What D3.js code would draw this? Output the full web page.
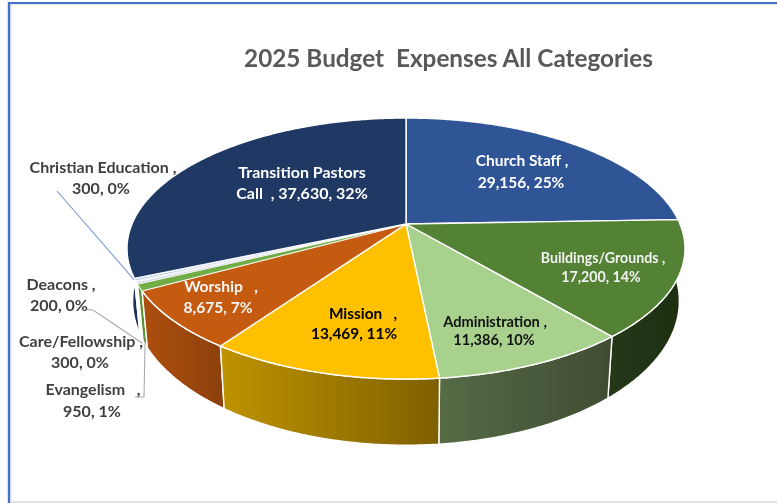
<!DOCTYPE html>
<html>
<head>
<meta charset="utf-8">
<script src="https://cdn.jsdelivr.net/npm/d3@7/dist/d3.min.js"></script>
<style>
html,body{margin:0;padding:0;background:#fff;overflow:hidden}
svg{display:block;filter:blur(0.35px)}
text{font-family:Lato,"Open Sans",sans-serif;font-weight:700;text-anchor:middle}
</style>
</head>
<body>
<svg id="c" width="777" height="503"></svg>
<script>
const categories = ["Church Staff","Buildings/Grounds","Administration","Mission","Worship","Evangelism","Care/Fellowship","Deacons","Christian Education","Transition Pastors Call"];
const values = [29156,17200,11386,13469,8675,950,300,200,300,37630];
const percents = [25,14,10,11,7,1,0,0,0,32];
const nameLines = ["Church Staff ,","Buildings/Grounds ,","Administration ,","Mission   ,","Worship   ,","Evangelism   ,","Care/Fellowship ,","Deacons ,","Christian Education ,","Transition Pastors"];
const topColors = ["#2f5597","#548235","#a9d18e","#ffc000","#c55a11","#70ad47","#d5d9e0","#e3e7ef","#b4c7e7","#1f3864"];
const sideStart = ["#24437a","#25391a","#566b46","#bd9200","#ab4e0f","#5d9239","#b0b0b0","#c8c8c8","#8fa6cc","#1a3058"];
const sideEnd   = ["#24437a","#1e3010","#404d33","#7f6000","#8c400c","#5d9239","#b0b0b0","#c8c8c8","#8fa6cc","#1a3058"];
const labelColors = ["#fff","#f2f2f2","#111","#000","#f7f7f7","#404040","#404040","#404040","#404040","#fff"];
const labelSizes = [15.5,14.2,14.6,15.4,15.6,16,16,16,16,16];
const labelCenters = [[522,161,521,183],[603,258,601,277],[495,322,494,340],[363,314,354,334],[221,287,218,308],[93,389,92,411],[81,341,80,362],[61,284,59,305],[103,167,101,188],[302,172,302,193]];
const titleText = "2025 Budget\u00a0\u00a0Expenses All Categories";

const svg = d3.select("#c");
const defs = svg.append("defs");

// Frame
svg.append("rect").attr("x",0).attr("y",0).attr("width",777).attr("height",503).attr("fill","#fff");
svg.append("line").attr("x1",11).attr("x2",11).attr("y1",4).attr("y2",503).attr("stroke","#dfe4ee").attr("stroke-width",1);
svg.append("line").attr("x1",9).attr("x2",777).attr("y1",4.5).attr("y2",4.5).attr("stroke","#e6e6e6").attr("stroke-width",1);
svg.append("line").attr("x1",11).attr("x2",777).attr("y1",502).attr("y2",502).attr("stroke","#e2e2e2").attr("stroke-width",2);
svg.append("line").attr("x1",9).attr("x2",9).attr("y1",2).attr("y2",503).attr("stroke","#4472c4").attr("stroke-width",2.4);
svg.append("line").attr("x1",8).attr("x2",777).attr("y1",3).attr("y2",3).attr("stroke","#4472c4").attr("stroke-width",2);

// Title
svg.append("text").attr("x",448.5).attr("y",67).attr("fill","#595959")
  .style("font-size","24.3px").text(titleText);

// Perspective pie: a tilted disc projected through a vanishing factor
const k = 0.188;
const xTop = d3.scaleLinear().domain([-1,1]).range([406-274,406+274]);
const yTop = d3.scaleLinear().domain([-1,1]).range([224-125.9,224+125.9]);
const xBot = d3.scaleLinear().domain([-1,1]).range([406-268.5,406+268.5]);
const yBot = d3.scaleLinear().domain([-1,1]).range([274-139,274+139]);
function proj(a, xs, ys){
  const u = Math.sin(a), v = -Math.cos(a), f = 1/(1-k*v);
  return [xs(u*f), ys(v*f)];
}
const pie = d3.pie().sort(null).value(d=>d)(values);
const line = d3.line();
function arcPts(d, xs, ys){
  const n = Math.max(2, Math.ceil((d.endAngle-d.startAngle)/0.01));
  return d3.range(n+1).map(i=>proj(d.startAngle+(d.endAngle-d.startAngle)*i/n, xs, ys));
}
const mid = d => (d.startAngle+d.endAngle)/2;

// Side walls, far to near
pie.forEach((d,i)=>{
  const g = defs.append("linearGradient").attr("id","side"+i)
    .attr("gradientUnits","userSpaceOnUse");
  const a = proj(d.endAngle,xBot,yBot), b = proj(d.startAngle,xBot,yBot);
  g.attr("x1",a[0]).attr("x2",b[0]).attr("y1",0).attr("y2",0);
  g.append("stop").attr("offset",0).attr("stop-color",sideStart[i]);
  g.append("stop").attr("offset",1).attr("stop-color",sideEnd[i]);
});
const order = d3.range(pie.length).sort((a,b)=>(-Math.cos(mid(pie[a])))-(-Math.cos(mid(pie[b]))));
order.forEach(i=>{
  const d = pie[i];
  const pts = arcPts(d,xTop,yTop).concat(arcPts(d,xBot,yBot).reverse());
  svg.append("path").attr("d",line(pts)+"Z").attr("fill","url(#side"+i+")")
    .attr("stroke","#fff").attr("stroke-width",1.4).attr("stroke-linejoin","round");
});

// Top face
pie.forEach((d,i)=>{
  const c = [xTop(0),yTop(0)];
  const pts = [c].concat(arcPts(d,xTop,yTop));
  svg.append("path").attr("d",line(pts)+"Z").attr("fill",topColors[i])
    .attr("stroke","#fff").attr("stroke-width",i>=5&&i<=8?0.6:1.4).attr("stroke-linejoin","round");
});

// Leader lines, anchored on the rim of their slices
const fmt = d3.format(",");
const leaderLine = d3.line();
const eduRim = proj(mid(pie[8]),xTop,yTop);
const deaBot = proj(mid(pie[7]),xBot,yBot);
const evaBot = proj(mid(pie[5]),xBot,yBot);
svg.append("path").attr("d",leaderLine([[labelCenters[8][2]-44,191],[eduRim[0]-1,eduRim[1]]]))
  .attr("fill","none").attr("stroke","#7c9bd6").attr("stroke-width",1.1);
svg.append("path").attr("d",leaderLine([[labelCenters[7][2]+28,309.5],[labelCenters[7][2]+34,310],[deaBot[0]+1,deaBot[1]+6]]))
  .attr("fill","none").attr("stroke","#a9a9a9").attr("stroke-width",1.1);
svg.append("path").attr("d",leaderLine([[labelCenters[5][2]+43,397],[labelCenters[5][2]+52,397],[evaBot[0],evaBot[1]-2]]))
  .attr("fill","none").attr("stroke","#a9a9a9").attr("stroke-width",1.1);

// Labels
pie.forEach((d,i)=>{
  const p = labelCenters[i];
  const second = (i===9 ? "Call  , " : "") + fmt(values[i]) + ", " + percents[i] + "%";
  [[nameLines[i],p[0],p[1]],[second,p[2],p[3]]].forEach(t=>{
    svg.append("text").attr("x",t[1]).attr("y",t[2]).attr("dy","0.35em")
      .attr("fill",labelColors[i]).style("font-size",labelSizes[i]+"px")
      .style("white-space","pre").text(t[0]);
  });
});
</script>
</body>
</html>
